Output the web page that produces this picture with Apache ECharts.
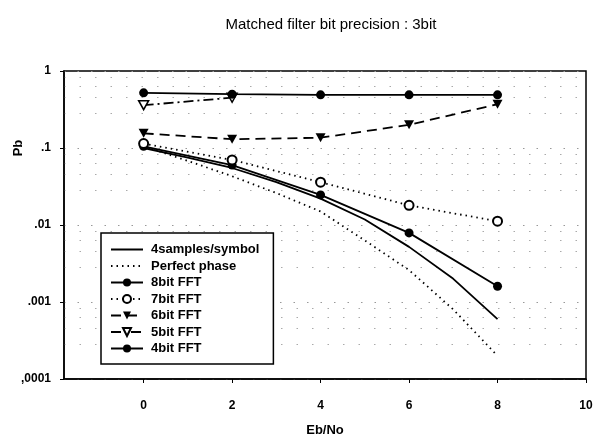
<!DOCTYPE html>
<html>
<head>
<meta charset="utf-8">
<script src="https://cdn.jsdelivr.net/npm/echarts@6/dist/echarts.min.js"></script>
<style>
html, body { margin: 0; background: #fff; }
#chart { width: 597px; height: 442px; }
</style>
</head>
<body>
<div id="chart"></div>
<script>
// Eb/No points for the FFT curves and for the two reference curves
const ebNo = [0, 2, 4, 6, 8]
const ebNoFine = [0, 1, 2, 3, 4, 5, 6, 7, 8]
const samples4 = [0.1, 0.075, 0.055, 0.036, 0.022, 0.0118, 0.0052, 0.002, 0.0006]
const perfectPhase = [0.105, 0.068, 0.043, 0.026, 0.015, 0.0063, 0.0026, 0.0008, 0.0002]
const fft8 = [0.105, 0.06, 0.0246, 0.0079, 0.0016]
const fft7 = [0.114, 0.07, 0.036, 0.018, 0.0112]
const fft6 = [0.155, 0.13, 0.136, 0.2, 0.37]
const fft5 = [0.36, 0.45]
const fft4 = [0.52, 0.5, 0.49, 0.49, 0.49]
const xTicks = [0, 2, 4, 6, 8, 10]
const yLabels = [',0001', '.001', '.01', '.1', '1'] // 1e-4 ... 1

const font = 'Liberation Sans, Arial, sans-serif'
const pairs = (xs, ys) => ys.map((y, i) => [xs[i], y])
const triDown = 'path://M0,0L10,0L5,9Z'

const chart = echarts.init(document.getElementById('chart'))
chart.setOption({
    animation: false,
    title: {
        text: 'Matched filter bit precision : 3bit',
        left: 326,
        textAlign: 'center',
        top: 12,
        textStyle: { fontFamily: font, fontSize: 15, fontWeight: 'normal', color: '#000' }
    },
    graphic: [{
        type: 'text',
        x: 18,
        y: 148,
        rotation: Math.PI / 2,
        style: {
            text: 'Pb',
            font: 'bold 13px ' + font,
            fill: '#000',
            align: 'center',
            verticalAlign: 'middle'
        }
    }],
    grid: {
        left: 64,
        right: 11,
        top: 71,
        bottom: 57,
        show: true,
        borderColor: '#000',
        borderWidth: 1.5
    },
    legend: {
        orient: 'vertical',
        left: 101,
        top: 233,
        itemWidth: 32,
        itemHeight: 10,
        itemGap: 3.5,
        padding: [10, 14, 9, 9],
        borderColor: '#000',
        borderWidth: 1.5,
        backgroundColor: '#fff',
        textStyle: {
            fontFamily: font, fontSize: 13, fontWeight: 'bold', color: '#000',
            padding: [0, 0, 0, 3]
        },
        data: ['4samples/symbol', 'Perfect phase', '8bit FFT', '7bit FFT', '6bit FFT', '5bit FFT', '4bit FFT']
    },
    xAxis: {
        type: 'value',
        min: -1.8,
        max: 10,
        name: 'Eb/No',
        nameLocation: 'middle',
        nameGap: 45,
        nameTextStyle: { fontFamily: font, fontSize: 13, fontWeight: 'bold', color: '#000' },
        axisLine: { onZero: false, lineStyle: { color: '#000', width: 1.5 } },
        axisTick: { customValues: xTicks, length: 4, lineStyle: { color: '#000' } },
        axisLabel: {
            customValues: xTicks,
            margin: 21,
            fontFamily: font, fontSize: 12, fontWeight: 'bold', color: '#000'
        },
        splitLine: { show: false }
    },
    yAxis: {
        type: 'log',
        logBase: 10,
        min: 0.0001,
        max: 1,
        axisLine: { show: true, onZero: false, lineStyle: { color: '#000', width: 1.5 } },
        axisTick: { show: true, length: 4, lineStyle: { color: '#000' } },
        minorTick: { show: false, splitNumber: 5 },
        axisLabel: {
            margin: 13,
            fontFamily: font, fontSize: 12, fontWeight: 'bold', color: '#000',
            formatter: (v) => yLabels[Math.round(Math.log10(v)) + 4]
        },
        splitLine: { show: true, lineStyle: { color: '#999', width: 1, type: [1.5, 12] } },
        minorSplitLine: { show: true, lineStyle: { color: '#aaa', width: 1, type: [1.5, 14] } }
    },
    series: [
        {
            name: '4samples/symbol',
            type: 'line',
            symbol: 'none',
            data: pairs(ebNoFine, samples4),
            lineStyle: { color: '#000', width: 1.8 },
            itemStyle: { color: 'rgba(0,0,0,0)' }
        },
        {
            name: 'Perfect phase',
            type: 'line',
            symbol: 'none',
            data: pairs(ebNoFine, perfectPhase),
            lineStyle: { color: '#000', width: 1.8, type: [1.5, 4] },
            itemStyle: { color: 'rgba(0,0,0,0)' }
        },
        {
            name: '8bit FFT',
            type: 'line',
            symbol: 'circle',
            symbolSize: 9,
            data: pairs(ebNo, fft8),
            lineStyle: { color: '#000', width: 1.8 },
            itemStyle: { color: '#000' }
        },
        {
            name: '7bit FFT',
            type: 'line',
            symbol: 'emptyCircle',
            symbolSize: 9,
            data: pairs(ebNo, fft7),
            lineStyle: { color: '#000', width: 1.8, type: [1.5, 4] },
            itemStyle: { color: '#000', borderWidth: 1.5 }
        },
        {
            name: '6bit FFT',
            type: 'line',
            symbol: triDown,
            symbolSize: [10, 9],
            data: pairs(ebNo, fft6),
            lineStyle: { color: '#000', width: 1.8, type: [10, 6] },
            itemStyle: { color: '#000' }
        },
        {
            name: '5bit FFT',
            type: 'line',
            symbol: triDown,
            symbolSize: [10, 9],
            data: pairs(ebNo, fft5),
            lineStyle: { color: '#000', width: 1.8, type: [10, 4, 2, 4] },
            itemStyle: { color: '#fff', borderColor: '#000', borderWidth: 1.5 }
        },
        {
            name: '4bit FFT',
            type: 'line',
            symbol: 'circle',
            symbolSize: 9,
            data: pairs(ebNo, fft4),
            lineStyle: { color: '#000', width: 1.8 },
            itemStyle: { color: '#000' }
        }
    ]
})
</script>
</body>
</html>
